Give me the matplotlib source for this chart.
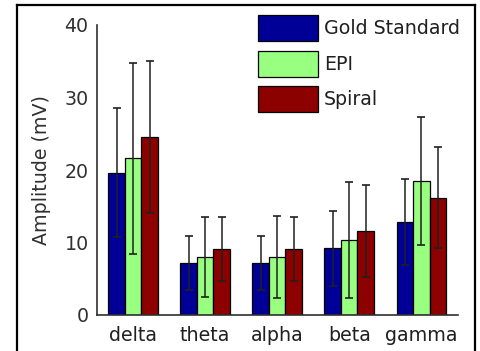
import numpy as np
import matplotlib
matplotlib.use("Agg")
import matplotlib.pyplot as plt

bands = ["delta", "theta", "alpha", "beta", "gamma"]
series = ["Gold Standard", "EPI", "Spiral"]

gold = [19.6, 7.2, 7.2, 9.2, 12.8]
gold_err = [8.9, 3.7, 3.7, 5.2, 5.9]
epi = [21.6, 8.0, 8.0, 10.3, 18.5]
epi_err = [13.2, 5.5, 5.6, 8.0, 8.8]
spiral = [24.6, 9.1, 9.1, 11.6, 16.2]
spiral_err = [10.5, 4.4, 4.4, 6.4, 7.0]

colors = ["#000096", "#99FF80", "#8C0000"]
fs = 13.7

plt.rcParams["font.family"] = ["DejaVu Sans"]

fig = plt.figure(figsize=(4.81, 3.51), dpi=100)
fig.patch.set_facecolor("white")

# outer frame around the figure (open at the bottom)
W, H = 481, 351
for xs, ys in [([17 / W, 17 / W], [0, 1 - 5 / H]),
               ([17 / W, 475 / W], [1 - 5 / H, 1 - 5 / H]),
               ([475 / W, 475 / W], [0, 1 - 5 / H])]:
    fig.add_artist(plt.Line2D(xs, ys, color="black", lw=1.6, transform=fig.transFigure))

ax = fig.add_axes([97 / W, 36 / H, 361 / W, 290 / H])

x = np.arange(1, len(bands) + 1)
width = 0.229
vals = [gold, epi, spiral]
errs = [gold_err, epi_err, spiral_err]
for i, (v, e, c, name) in enumerate(zip(vals, errs, colors, series)):
    pos = x + (i - 1) * width
    ax.bar(pos, v, width, color=c, edgecolor="black", linewidth=0.9, label=name, zorder=2)
    ax.errorbar(pos, v, yerr=e, fmt="none", ecolor="#202020", elinewidth=1.1,
                capsize=2.8, capthick=1.2, zorder=3)

ax.set_xlim(0.5, 5.51)
ax.set_ylim(0, 40)
ax.set_yticks([0, 10, 20, 30, 40])
ax.set_xticks(x)
ax.set_xticklabels(bands, fontsize=fs)
ax.tick_params(axis="y", labelsize=fs, length=0, pad=6)
ax.tick_params(axis="x", length=0, pad=8, colors="#202020")
for lab in ax.get_yticklabels():
    lab.set_color("#303030")
ax.spines["top"].set_visible(False)
ax.spines["right"].set_visible(False)
for side in ("left", "bottom"):
    ax.spines[side].set_color("#303030")
    ax.spines[side].set_linewidth(1.2)
ax.set_ylabel("Amplitude (mV)", fontsize=fs, color="#303030", labelpad=10)

fig.legend(loc="upper left", bbox_to_anchor=(258 / W, 1 - 15 / H),
           frameon=False, fontsize=fs, borderpad=0, borderaxespad=0,
           handlelength=3.16, handleheight=1.73, labelspacing=0.5,
           handletextpad=0.32, labelcolor="#202020")

fig.savefig("out.png", dpi=100)
